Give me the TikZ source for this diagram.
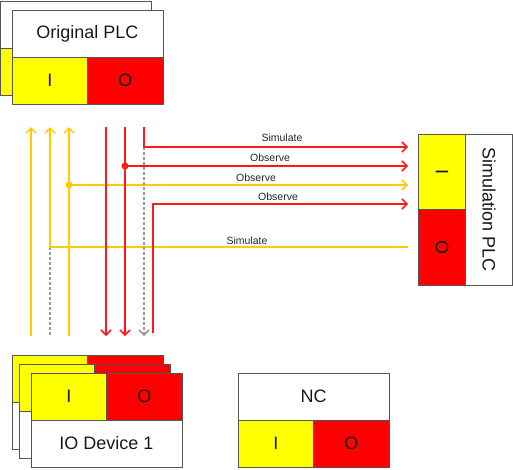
\documentclass[tikz,border=0pt]{standalone}
\usepackage{fontspec}
\setmainfont{Liberation Sans}
\usetikzlibrary{arrows.meta,positioning}
\definecolor{ioyellow}{HTML}{FFFF00}
\definecolor{iored}{HTML}{FF0000}
\definecolor{wireyellow}{HTML}{FFCC00}
\definecolor{wirered}{HTML}{FF1A1A}
\definecolor{wiregray}{HTML}{999999}
\definecolor{edgegray}{HTML}{555555}
\tikzset{
	part/.style={draw=edgegray, line width=1pt, inner sep=0pt, outer sep=0pt, text=black!90, font=\fontsize{18}{20}\selectfont},
	namepart/.style={part, fill=white, minimum width=151pt, minimum height=47pt},
	inpart/.style={part, fill=ioyellow, minimum width=75.5pt, minimum height=47pt},
	outpart/.style={part, fill=iored, minimum width=75.5pt, minimum height=47pt},
	wire/.style={line width=1.5pt},
	ywire/.style={wire, draw=wireyellow},
	rwire/.style={wire, draw=wirered},
	gwire/.style={wire, draw=wiregray, dash pattern=on 3pt off 2pt},
	tip/.style={-{Straight Barb[length=5pt,width=10pt]}},
	wlabel/.style={inner sep=0pt, text=black!85, font=\fontsize{10.5}{12}\selectfont},
	joint/.style={circle, inner sep=0pt, minimum size=7pt}
}
\begin{document}
\begin{tikzpicture}[x=1pt, y=-1pt]
	\useasboundingbox (0, 0) rectangle (513, 469);

	% original PLC (with a copy behind it)
	\node[namepart, anchor=north west] (plcb) at (0.5, 1) {};
	\node[inpart, anchor=north west] (plcbI) at (plcb.south west) {};
	\node[outpart, anchor=north west] (plcbO) at (plcbI.north east) {};
	\node[namepart, anchor=north west] (plc) at (12, 10) {Original PLC};
	\node[inpart, anchor=north west] (plcI) at (plc.south west) {I};
	\node[outpart, anchor=north west] (plcO) at (plcI.north east) {O};

	% IO devices
	\foreach \n/\x/\y in {a/12/355, b/19/364} {
		\node[inpart, anchor=north west] (dev\n I) at (\x, \y) {};
		\node[outpart, anchor=north west] (dev\n O) at (dev\n I.north east) {};
		\node[namepart, anchor=north west] (dev\n) at (dev\n I.south west) {};
	}
	\node[inpart, anchor=north west] (devI) at (31, 373) {I};
	\node[outpart, anchor=north west] (devO) at (devI.north east) {O};
	\node[namepart, anchor=north west] (dev) at (devI.south west) {IO Device 1};

	% NC
	\node[namepart, anchor=north west] (nc) at (238, 373) {NC};
	\node[inpart, anchor=north west] (ncI) at (nc.south west) {I};
	\node[outpart, anchor=north west] (ncO) at (ncI.north east) {O};

	% simulation PLC
	\node[inpart, rotate=-90, minimum width=75pt, minimum height=48pt] (simI) at (442, 171.5) {I};
	\node[outpart, rotate=-90, minimum width=76pt, minimum height=48pt] (simO) at (442, 247) {O};
	\node[namepart, rotate=-90, minimum width=151pt, minimum height=47pt] (sim) at (489, 209.5) {Simulation PLC};

	% wire ends
	\foreach \n/\x in {1/31, 2/50, 3/69, 4/106, 5/125, 6/144, 7/153} {
		\coordinate (t\n) at (\x, 127);
		\coordinate (b\n) at (\x, 336);
	}
	\coordinate (b7) at (153, 333);
	\foreach \n/\y in {1/147, 2/166, 3/185, 4/204, 5/247}
		\coordinate (s\n) at (408, \y);

	% inputs
	\draw[ywire, tip] (b1) -- (t1);
	\draw[gwire] (t2 |- s5) -- (b2);
	\draw[ywire, tip] (s5) -| (t2);
	\draw[ywire, tip] (b3) -- (t3);
	\node[joint, fill=wireyellow] (j3) at (t3 |- s3) {};
	\draw[ywire, tip] (j3.center) -- (s3);

	% outputs
	\draw[rwire, tip] (t4) -- (b4);
	\draw[rwire, tip] (t5) -- (b5);
	\node[joint, fill=wirered] (j5) at (t5 |- s2) {};
	\draw[rwire, tip] (j5.center) -- (s2);
	\draw[gwire, tip] (t6 |- s1) -- (b6);
	\draw[rwire, tip] (t6) |- (s1);
	\draw[rwire, tip] (b7) |- (s4);

	% wire labels
	\node[wlabel] (lsim1) at (282, 138) {Simulate};
	\node[wlabel] (lobs1) at (270, 158) {Observe};
	\node[wlabel] (lobs2) at (256, 178) {Observe};
	\node[wlabel] (lobs3) at (278, 197) {Observe};
	\node[wlabel] (lsim2) at (247, 241) {Simulate};
\end{tikzpicture}
\end{document}
